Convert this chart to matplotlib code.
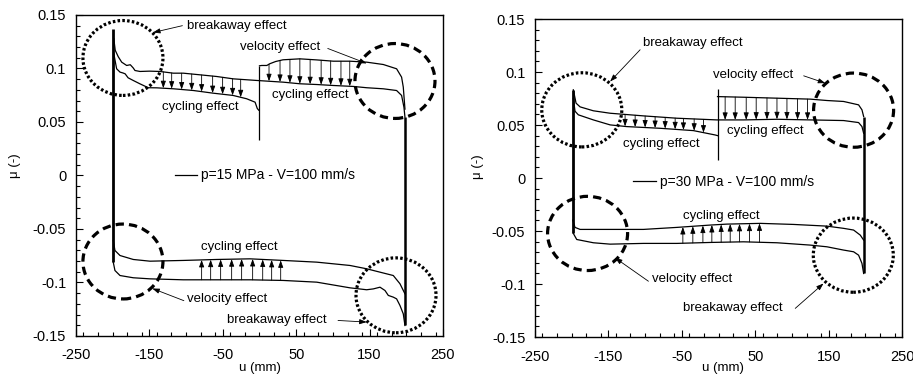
import numpy as np
import matplotlib
matplotlib.use('Agg')
import matplotlib.pyplot as plt
from matplotlib.patches import Ellipse
from matplotlib.lines import Line2D
import matplotlib.ticker as ticker

plt.rcParams['font.family'] = ['Liberation Sans', 'DejaVu Sans']
plt.rcParams['font.size'] = 9.5
plt.rcParams['axes.unicode_minus'] = False

# ---------------- left panel: p = 15 MPa ----------------
# upper branch, cycle A (runs -200 -> 200)
L_A_u = [-198.5, -196.5, -192.4, -187.7, -180.9, -176, -172, -169.6, -162.8, -150, -135.6, -117.4,
         -103.8, -80, -58.3, -35.7, -3.8, 32.4, 55, 78, 100.6, 127.9, 146, 168.7, 186.8, 193.6, 196.8, 198.2]
L_A_mu = [0.128, 0.117, 0.111, 0.1059, 0.1028, 0.1035, 0.1005, 0.0981, 0.0972, 0.0975, 0.0972, 0.0956,
          0.0956, 0.094, 0.0925, 0.0903, 0.0888, 0.0872, 0.0857, 0.085, 0.0841, 0.0832, 0.082, 0.081,
          0.0794, 0.0748, 0.0638, 0.0545]
# upper branch, cycle B, before and after the jump at u = 0
L_B1_u = [-198.5, -194.6, -190, -186, -183, -179, -172, -163, -151.5, -140, -117, -90, -63, -36, -17.5, -6, -3, -1]
L_B1_mu = [0.114, 0.0997, 0.0966, 0.0958, 0.095, 0.0913, 0.0888, 0.0857, 0.082, 0.0819, 0.081, 0.0794,
           0.0769, 0.0748, 0.0717, 0.0685, 0.0626, 0.061]
L_B2_u = [0, 3, 10, 14, 22, 32, 55, 78, 100.6, 123.3, 146, 168.7, 186.8, 193.6, 195.9, 198.2]
L_B2_mu = [0.1025, 0.1028, 0.1028, 0.1044, 0.1065, 0.1081, 0.109, 0.108, 0.1068, 0.1068, 0.1059, 0.1037,
           0.0997, 0.0919, 0.0826, 0.062]
# lower branch (runs 200 -> -200), stored with u ascending
L_C_u = [-199.2, -196.9, -190, -171.9, -149.2, -103.8, -58.3, -12.9, 32.4, 78, 123.3, 146, 182.3, 191.4, 198.2]
L_C_mu = [-0.0607, -0.0701, -0.0748, -0.0785, -0.0801, -0.0794, -0.0785, -0.0779, -0.0794, -0.081,
          -0.0841, -0.0872, -0.0935, -0.1012, -0.1106]
L_D_u = [-199.2, -196.9, -190, -171.9, -149.2, -103.8, -58.3, -12.9, 32.4, 78, 123.3, 146, 155.1, 164.2,
         171, 175.5, 182.3, 186.8, 191.4, 195.9, 198.2]
L_D_mu = [-0.081, -0.0888, -0.0935, -0.0956, -0.0966, -0.0975, -0.0975, -0.0975, -0.0981, -0.0997, -0.105,
          -0.1068, -0.106, -0.1044, -0.1075, -0.1121, -0.1137, -0.1153, -0.1215, -0.1293, -0.1402]
# reversal / jump lines: u, mu_low, mu_high
L_V_u = [-199.5, 0, 198.5]
L_V_lo = [-0.081, 0.033, -0.140]
L_V_hi = [0.137, 0.1025, 0.0545]
# cycling-effect arrow positions
L_arr_ul = [-131, -119.6, -106, -92.3, -78.8, -63.8, -50.2, -36.6, -25.6]
L_arr_ur = [13, 28, 41.5, 55, 69, 84, 97, 111, 123]
L_arr_lo = [-78.8, -66.5, -52.9, -37.9, -24.3, -9.3, 4.4, 16.6, 28.9]
L_circ_u = [-186, 184.6, -186, 186]
L_circ_mu = [0.1098, 0.0883, -0.0804, -0.112]
L_label = 'p=15 MPa - V=100 mm/s'

# ---------------- right panel: p = 30 MPa ----------------
R_A_u = [-197.8, -194.1, -188.6, -170.5, -147.7, -102.3, -56.8, -2.3, 34, 79.6, 125, 170.4, 190.8, 195.4, 197.7]
R_A_mu = [0.0832, 0.0706, 0.0671, 0.0634, 0.0611, 0.0586, 0.0564, 0.0548, 0.0548, 0.0554, 0.0548, 0.0542,
          0.0523, 0.0485, 0.0422]
R_B1_u = [-197.8, -195.5, -191, -170.5, -147.7, -125, -79.5, -34.2, -4.6, -1.4]
R_B1_mu = [0.075, 0.063, 0.0596, 0.0548, 0.0501, 0.0485, 0.0469, 0.0447, 0.0406, 0.040]
R_B2_u = [-1.4, 34, 79.6, 125, 147.7, 170.4, 190.8, 195.4, 197.7]
R_B2_mu = [0.0768, 0.0762, 0.0753, 0.0744, 0.0731, 0.0722, 0.069, 0.0643, 0.058]
R_C_u = [-198.6, -195.5, -188.6, -147.7, -102.3, -56.8, -11.4, 11.4, 56.9, 102.2, 147.7, 170.4, 184, 193.1, 197.7]
R_C_mu = [-0.0397, -0.0466, -0.0485, -0.0485, -0.0485, -0.0466, -0.0444, -0.0435, -0.0428, -0.0438,
          -0.0454, -0.0475, -0.0491, -0.0539, -0.0586]
R_D_u = [-197.8, -193.2, -170.5, -147.7, -102.3, -56.8, -11.4, 34, 79.6, 125, 147.7, 170.4, 184, 190.8, 195.4, 197.7]
R_D_mu = [-0.0523, -0.058, -0.0611, -0.0624, -0.0617, -0.0617, -0.0608, -0.0602, -0.0611, -0.0633, -0.0649,
          -0.068, -0.0696, -0.0728, -0.0806, -0.0901]
R_V_u = [-198, -1.4, 197.7]
R_V_lo = [-0.052, 0.017, -0.090]
R_V_hi = [0.083, 0.0838, 0.058]
R_arr_ul = [-127.3, -113.6, -100, -86.4, -72.7, -59.1, -47.8, -33.2, -20.5]
R_arr_ur = [9, 22.7, 37.7, 51.3, 66, 79.6, 93.2, 107.7, 121.3]
R_arr_lo = [-48.6, -35, -21.3, -9.1, 3.6, 15.9, 28.6, 42.2, 55.8]
R_circ_u = [-186.3, 184, -178.4, 183.6]
R_circ_mu = [0.0643, 0.064, -0.0523, -0.0728]
R_label = 'p=30 MPa - V=100 mm/s'

CIRC_STYLES = ['dot', 'dash', 'dash', 'dot']
ARROW = dict(arrowstyle='-|>,head_length=0.7,head_width=0.25', lw=0.6,
             color='k', shrinkA=0, shrinkB=0, mutation_scale=6)


def arrows(ax, us, u_from, mu_from, u_to, mu_to):
    for u in us:
        y0 = np.interp(u, u_from, mu_from)
        y1 = np.interp(u, u_to, mu_to)
        ax.annotate('', xy=(u, y1), xytext=(u, y0), arrowprops=ARROW)


def note(ax, text, xy_text, xy_arrow=None, ha='left'):
    ax.text(xy_text[0], xy_text[1], text, ha=ha, va='center', fontsize=9.5)
    if xy_arrow is not None:
        ax.annotate('', xy=xy_arrow[1], xytext=xy_arrow[0], arrowprops=ARROW)


def panel(ax, A, B1, B2, C, D, V, arr, circ, label):
    ax.plot(*A, 'k', lw=0.9)
    ax.plot(*B1, 'k', lw=0.9)
    ax.plot(*B2, 'k', lw=0.9)
    ax.plot(*C, 'k', lw=0.9)
    ax.plot(*D, 'k', lw=0.9)
    ax.vlines(V[0][0], V[1][0], V[2][0], color='k', lw=2.0)
    ax.vlines(V[0][1], V[1][1], V[2][1], color='k', lw=0.9)
    ax.vlines(V[0][2], V[1][2], V[2][2], color='k', lw=1.8)

    # cycling-effect arrows between successive cycles
    arrows(ax, arr[0], A[0], A[1], B1[0], B1[1])
    arrows(ax, arr[1], B2[0], B2[1], A[0], A[1])
    arrows(ax, arr[2], D[0], D[1], C[0], C[1])

    for cu, cm, st in zip(circ[0], circ[1], CIRC_STYLES):
        if st == 'dot':
            ls, lw = (0, (0.8, 0.7)), 2.3
        else:
            ls, lw = (0, (2.6, 1.6)), 2.3
        ax.add_patch(Ellipse((cu, cm), 109, 0.070, fill=False, ec='k', lw=lw, ls=ls))

    h = Line2D([], [], color='k', lw=0.9)
    ax.legend([h], [label], loc='center left', frameon=False, fontsize=10,
              handlelength=1.6, handletextpad=0.3, borderpad=0, borderaxespad=0,
              bbox_to_anchor=(0.27, 0.5))

    ax.set_xlim(-250, 250)
    ax.set_ylim(-0.15, 0.15)
    ax.set_xticks([-250, -150, -50, 50, 150, 250])
    ax.set_yticks([-0.15, -0.1, -0.05, 0, 0.05, 0.1, 0.15])
    ax.set_yticklabels(['-0.15', '-0.1', '-0.05', '0', '0.05', '0.1', '0.15'])
    ax.xaxis.set_minor_locator(ticker.MultipleLocator(20))
    ax.yaxis.set_minor_locator(ticker.MultipleLocator(0.01))
    ax.tick_params(which='both', direction='in', top=False, right=False, labelsize=10.5)
    ax.tick_params(which='major', length=5, width=0.8)
    ax.tick_params(which='minor', length=3, width=0.8)
    ax.tick_params(axis='x', pad=9)
    ax.tick_params(axis='y', pad=7)
    for s in ax.spines.values():
        s.set_linewidth(1.0)
    ax.set_xlabel('u (mm)', fontsize=9.5)
    ax.set_ylabel('\u03bc (-)', fontsize=9.5)


fig = plt.figure(figsize=(9.13, 3.77), dpi=100)
axL = fig.add_axes([0.0832, 0.1088, 0.402, 0.8515])
axR = fig.add_axes([0.586, 0.1061, 0.402, 0.8435])

panel(axL, (L_A_u, L_A_mu), (L_B1_u, L_B1_mu), (L_B2_u, L_B2_mu), (L_C_u, L_C_mu), (L_D_u, L_D_mu),
      (L_V_u, L_V_lo, L_V_hi), (L_arr_ul, L_arr_ur, L_arr_lo), (L_circ_u, L_circ_mu), L_label)
axL.yaxis.set_label_coords(-0.15, 0.53)
axL.xaxis.set_label_coords(0.5, -0.08)
note(axL, 'breakaway effect', (-99, 0.140), ((-105, 0.140), (-145, 0.1336)))
note(axL, 'velocity effect', (-26.6, 0.1196), ((93, 0.1187), (146, 0.1047)))
note(axL, 'cycling effect', (-81, 0.0636), ha='center')
note(axL, 'cycling effect', (69.5, 0.0748), ha='center')
note(axL, 'cycling effect', (-28, -0.067), ha='center')
note(axL, 'velocity effect', (-99, -0.115), ((-103, -0.117), (-146, -0.1056)))
note(axL, 'breakaway effect', (-44, -0.1346), ((107, -0.1355), (146, -0.137)))

panel(axR, (R_A_u, R_A_mu), (R_B1_u, R_B1_mu), (R_B2_u, R_B2_mu), (R_C_u, R_C_mu), (R_D_u, R_D_mu),
      (R_V_u, R_V_lo, R_V_hi), (R_arr_ul, R_arr_ur, R_arr_lo), (R_circ_u, R_circ_mu), R_label)
axR.get_legend().set_bbox_to_anchor((0.268, 0.488))
axR.yaxis.set_label_coords(-0.14, 0.535)
axR.xaxis.set_label_coords(0.512, -0.079)
note(axR, 'breakaway effect', (-103.2, 0.1273), ((-106.8, 0.121), (-147.7, 0.091)))
note(axR, 'velocity effect', (-8.2, 0.0974), ((116, 0.0964), (145.4, 0.0895)))
note(axR, 'cycling effect', (-77.3, 0.0321), ha='center')
note(axR, 'cycling effect', (63.6, 0.0444), ha='center')
note(axR, 'cycling effect', (4, -0.0359), ha='center')
note(axR, 'velocity effect', (-90.9, -0.0957), ((-95.5, -0.0974), (-141, -0.0753)))
note(axR, 'breakaway effect', (-48.6, -0.123), ((104.5, -0.123), (143, -0.0995)))

fig.savefig('out.png', dpi=100)
